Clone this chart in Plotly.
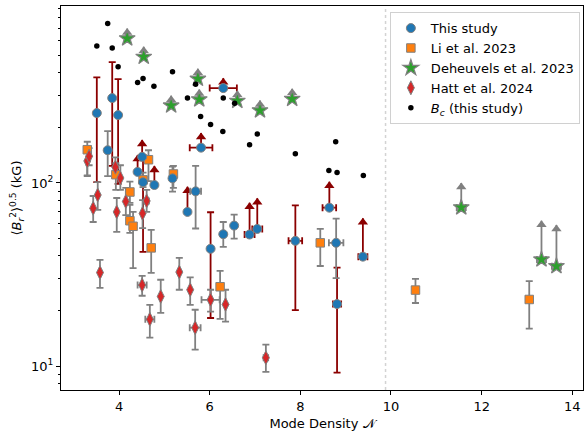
import numpy as np
import plotly.graph_objects as go

nan = np.nan

# ---------------- data ----------------
# This study
ts_x = [3.51, 3.85, 3.75, 3.98, 4.41, 4.51, 4.53, 4.78, 5.18, 5.51, 5.69, 5.81,
        6.02, 6.30, 6.30, 6.54, 6.88, 7.05, 7.89, 8.64, 8.79, 8.81, 9.38]
ts_y = [241, 291, 151, 235, 115, 139, 101, 97.5, 106, 69.5, 90, 156,
        43.7, 330, 52.5, 58.5, 52.3, 56.1, 48.3, 73.3, 47.1, 21.8, 39.6]
ts_lo = [101, 124, 109, 99, nan, nan, 42, nan, 89.7, nan, 56.4, nan,
         18.3, nan, 44.8, 49.7, nan, nan, 20.2, nan, 30.2, 9.2, nan]
ts_hi = [378, 457, 192, 369, nan, nan, 142, nan, 123, nan, 124, nan,
         69.2, nan, 61.2, 67.1, nan, nan, 75.5, nan, 63.8, 34.5, nan]
ts_col = ['r', 'r', 'g', 'r', 'r', 'r', 'r', 'r', 'g', 'r', 'g', 'r',
          'r', 'r', 'g', 'g', 'r', 'r', 'r', 'r', 'g', 'r', 'r']
ts_lim = [nan, nan, nan, nan, 142, 172, nan, 124, nan, 95.4, nan, 187.5,
          nan, 374, nan, nan, 78, 82.5, nan, 101.6, nan, nan, 64.1]
ts_xerr = [0, 0, 0, 0, 0, 0, 0, 0, 0, 0, 0.12, 0.25,
           0, 0.3, 0, 0, 0.11, 0.11, 0.15, 0.15, 0.16, 0.09, 0.1]

# B_c (this study)
bc_x = [3.51, 3.85, 3.75, 3.98, 4.41, 4.53, 4.77, 5.18, 5.51, 5.69, 5.80,
        6.02, 6.30, 6.29, 6.55, 6.88, 7.05, 7.89, 8.63, 8.81, 8.78, 9.39]
bc_y = [561, 547, 743, 431, 354, 372, 338, 405, 291, 346, 231,
        209, 291, 191, 273, 162, 185, 144.5, 117, 114, 168, 110]

# Li et al. 2023
li_x = [3.30, 3.93, 4.65, 5.20, 4.24, 4.24, 4.31, 4.71, 6.23, 8.44, 10.54, 13.05, 4.53]
li_y = [152, 111, 134, 112, 89.3, 62.2, 58, 44.2, 27.1, 47.1, 26.0, 23.1, 104]
li_lo = [109, 91.6, 102.5, 94, 77.8, 53.4, 34.3, 32.3, 18.1, 35.2, 22.1, 16.0, 95]
li_hi = [168, 128.5, 151, 124, 101.7, 75.9, 69.5, 55.5, 33.1, 56.1, 29.9, 29.1, 114]
li_xerr = [0, 0, 0, 0, 0, 0, 0, 0, 0, 0, 0.05, 0.05, 0]

# Deheuvels et al. 2023 (lower limits)
dh_x = [4.18, 4.545, 5.15, 5.74, 5.77, 6.61, 7.11, 7.82, 11.55, 13.32, 13.65]
dh_y = [616, 489, 265, 371, 286, 281, 249, 288, 73.5, 38.2, 35.1]
dh_lim = [698, 555, 300, 421, 324, 319, 282, 327, 100, 62.2, 59]
dh_xerr = [0, 0, 0, 0, 0, 0, 0, 0, 0.1, 0.1, 0.1]

# Hatt et al. 2024
ha_x = [3.30, 3.34, 3.53, 3.43, 3.95, 4.15, 4.61, 4.52, 4.03, 3.92, 3.58, 4.51,
        4.68, 4.92, 5.33, 5.57, 5.68, 6.02, 6.35, 7.24]
ha_y = [132, 140, 86, 72.8, 69.5, 79.3, 79.8, 68.2, 106.5, 122, 32.4, 27.7,
        18.0, 24.0, 32.6, 26.1, 16.2, 23.0, 21.7, 11.1]
ha_lo = [110, 125, 71.3, 61.2, 54.1, 66.8, 69.5, 56.7, 91.6, 108, 26.7, 24.2,
         14.3, 19.5, 26.1, 21.6, 12.3, 19.8, 17.5, 9.3]
ha_hi = [151, 155, 101, 84.9, 82.8, 94, 91.6, 80.7, 125, 138, 38, 31.1,
         21.6, 29.6, 39, 30.5, 20.3, 26.1, 26.1, 13.1]
ha_xerr = [0, 0, 0, 0, 0, 0, 0.05, 0, 0, 0, 0, 0.1,
           0.1, 0, 0, 0, 0.12, 0.2, 0, 0.05]

vline_x = 9.88
y_tickvals = [10, 100]
y_ticktext = ['10<sup>1</sup>', '10<sup>2</sup>']

# ---------------- styling ----------------
GRAY = '#808080'
DARKRED = '#8b0000'
XR = [2.72, 14.236]
YR = [0.869, 2.967]
PLOT_H = 437 - 6 - 47
PX_PER_DEC = PLOT_H / (YR[1] - YR[0])
ARROW_SHIFT = 10 ** (-4.0 / PX_PER_DEC)   # put triangle apex at the arrow tip

fig = go.Figure()
TR = 'rgba(0,0,0,0)'


def err_trace(x, y, lo, hi, xerr, color):
    x = np.asarray(x, float); y = np.asarray(y, float)
    lo = np.asarray(lo, float); hi = np.asarray(hi, float)
    xerr = np.asarray(xerr, float)
    fig.add_trace(go.Scatter(
        x=x, y=y, mode='markers', marker=dict(color=TR, size=1),
        error_y=dict(type='data', symmetric=False, array=hi - y, arrayminus=y - lo,
                     color=color, thickness=1.8, width=3.5),
        error_x=dict(type='data', array=xerr, color=color, thickness=1.8, width=3.5),
        showlegend=False, hoverinfo='skip'))


def arrow_trace(x, y, tip, xerr, color):
    x = np.asarray(x, float); y = np.asarray(y, float)
    tip = np.asarray(tip, float); xerr = np.asarray(xerr, float)
    fig.add_trace(go.Scatter(
        x=x, y=y, mode='markers', marker=dict(color=TR, size=1),
        error_y=dict(type='data', symmetric=False, array=tip - y,
                     arrayminus=np.zeros_like(y), color=color, thickness=1.8, width=0),
        error_x=dict(type='data', array=xerr, color=color, thickness=1.8, width=3.5),
        showlegend=False, hoverinfo='skip'))
    fig.add_trace(go.Scatter(
        x=x, y=tip * ARROW_SHIFT, mode='markers',
        marker=dict(symbol='triangle-up', size=9, color=color, line=dict(width=0)),
        showlegend=False, hoverinfo='skip'))


# This study error bars / limits
tx = np.array(ts_x); ty = np.array(ts_y)
tlo = np.array(ts_lo); thi = np.array(ts_hi)
tlim = np.array(ts_lim); txe = np.array(ts_xerr)
tcol = np.array(ts_col)
for c, col in (('r', DARKRED), ('g', GRAY)):
    m = (tcol == c) & ~np.isnan(tlo)
    if m.any():
        err_trace(tx[m], ty[m], tlo[m], thi[m], txe[m], col)
    m2 = (tcol == c) & ~np.isnan(tlim)
    if m2.any():
        arrow_trace(tx[m2], ty[m2], tlim[m2], txe[m2], col)

# others' error bars
err_trace(li_x, li_y, li_lo, li_hi, li_xerr, GRAY)
arrow_trace(dh_x, dh_y, dh_lim, dh_xerr, GRAY)
err_trace(ha_x, ha_y, ha_lo, ha_hi, ha_xerr, GRAY)

# markers
fig.add_trace(go.Scatter(
    x=li_x, y=li_y, mode='markers', name='Li et al. 2023', legendrank=2,
    marker=dict(symbol='square', size=8.5, color='#ff7f0e', line=dict(color=GRAY, width=1))))
fig.add_trace(go.Scatter(
    x=ha_x, y=ha_y, mode='markers', name='Hatt et al. 2024', legendrank=4,
    marker=dict(symbol='diamond-tall', size=10, color='#d62728', line=dict(color=GRAY, width=1))))
fig.add_trace(go.Scatter(
    x=dh_x, y=dh_y, mode='markers', name='Deheuvels et al. 2023', legendrank=3,
    marker=dict(symbol='star', size=12, color='#2ca02c', line=dict(color=GRAY, width=1.2))))
fig.add_trace(go.Scatter(
    x=ts_x, y=ts_y, mode='markers', name='This study', legendrank=1,
    marker=dict(symbol='circle', size=9, color='#1f77b4', line=dict(color=GRAY, width=1))))
fig.add_trace(go.Scatter(
    x=bc_x, y=bc_y, mode='markers', name='<i>B</i><sub><i>c</i></sub> (this study)', legendrank=5,
    marker=dict(symbol='circle', size=5.5, color='black', line=dict(width=0))))

fig.add_shape(type='line', xref='x', yref='paper', x0=vline_x, x1=vline_x, y0=0, y1=1,
              line=dict(color='#d3d3d3', width=1.5, dash='dot'), layer='below')

minor_vals = [m * 10 ** e for e in (0, 1, 2) for m in range(2, 10)]

fig.update_layout(
    width=585, height=437,
    margin=dict(l=61, r=2, t=6, b=47),
    plot_bgcolor='white', paper_bgcolor='white',
    font=dict(family='DejaVu Sans', size=13, color='black'),
    legend=dict(x=0.994, y=0.984, xanchor='right', yanchor='top',
                bordercolor='#d0d0d0', borderwidth=1, bgcolor='rgba(255,255,255,0.85)',
                font=dict(size=13), tracegroupgap=0),
    xaxis=dict(range=XR, dtick=2, tick0=0, ticks='outside', ticklen=4, tickwidth=1,
               tickcolor='black', showline=True, linecolor='black', linewidth=1,
               mirror=True, showgrid=False, zeroline=False,
               title=dict(text='Mode Density 𝒩', standoff=6, font=dict(size=13))),
    yaxis=dict(type='log', range=YR, tickvals=y_tickvals, ticktext=y_ticktext,
               ticks='outside', ticklen=4, tickwidth=1, tickcolor='black',
               showline=True, linecolor='black', linewidth=1, mirror=True,
               showgrid=False, zeroline=False,
               minor=dict(ticks='outside', ticklen=2.5, tickwidth=0.8, tickcolor='black',
                          tickvals=minor_vals, showgrid=False),
               title=dict(text='⟨<i>B</i><sub><i>r</i></sub><sup>2</sup>⟩<sup>0.5</sup> (kG)',
                          standoff=6, font=dict(size=13))),
)

fig.write_html('out.html')
